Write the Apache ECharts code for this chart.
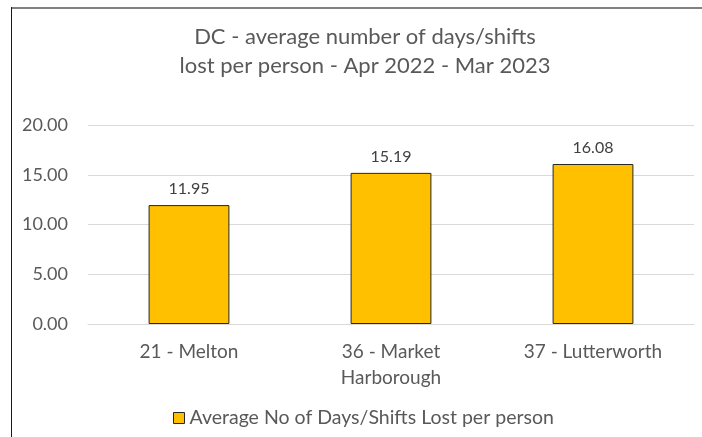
<!DOCTYPE html>
<html>
<head>
<meta charset="utf-8">
<script src="https://cdn.jsdelivr.net/npm/echarts@6/dist/echarts.min.js"></script>
<style>
  body { margin: 0; background: #fff; }
  #wrap { position: relative; width: 702px; height: 437px; overflow: hidden; }
  #main { position: absolute; left: 0; top: 0; width: 702px; height: 437px; }
  .topline { position: absolute; left: 11px; top: 7px; width: 691px; height: 2px; background: #808080; }
  .leftline { position: absolute; left: 11px; top: 7px; width: 1px; height: 430px; background: #1a1a1a; }
</style>
</head>
<body>
<div id="wrap">
  <div id="main"></div>
  <div class="topline"></div>
  <div class="leftline"></div>
</div>
<script>
var categories = ['21 - Melton', '36 - Market\nHarborough', '37 - Lutterworth'];
var seriesName = 'Average No of Days/Shifts Lost per person';
var values = [11.95, 15.19, 16.08];
var titleText = 'DC - average number of days/shifts\nlost per person - Apr 2022 - Mar 2023';

var myChart = echarts.init(document.getElementById('main'));
var font = 'Lato, "Open Sans", sans-serif';

var option = {
    animation: false,
    textStyle: { fontFamily: font },
    title: {
        text: titleText,
        left: 360,
        top: 17,
        textAlign: 'center',
        textStyle: {
            color: '#595959',
            fontSize: 22,
            fontWeight: 'normal',
            lineHeight: 29,
            fontFamily: font
        }
    },
    legend: {
        data: [seriesName],
        left: 168,
        top: 403,
        itemWidth: 11,
        itemHeight: 11,
        itemGap: 8,
        icon: 'rect',
        textStyle: { color: '#595959', fontSize: 19.5, fontFamily: font },
        itemStyle: { borderColor: '#262626', borderWidth: 1 }
    },
    grid: {
        left: 88,
        right: 8,
        top: 125,
        bottom: 113,
        containLabel: false
    },
    xAxis: {
        type: 'category',
        data: categories,
        axisTick: { show: false },
        axisLine: { lineStyle: { color: '#d9d9d9', width: 1 } },
        axisLabel: {
            color: '#595959',
            fontSize: 19,
            lineHeight: 26,
            margin: 15,
            interval: 0,
            fontFamily: font
        }
    },
    yAxis: {
        type: 'value',
        min: 0,
        max: 20,
        interval: 5,
        axisLine: { show: false },
        axisTick: { show: false },
        splitLine: { lineStyle: { color: '#d9d9d9', width: 1 } },
        axisLabel: {
            color: '#595959',
            fontSize: 18,
            margin: 20,
            fontFamily: font,
            formatter: function (v) { return v.toFixed(2); }
        }
    },
    series: [
        {
            name: seriesName,
            type: 'bar',
            data: values,
            barWidth: '40%',
            itemStyle: {
                color: '#ffc000',
                borderColor: '#262626',
                borderWidth: 1
            },
            label: {
                show: true,
                position: 'top',
                distance: 8,
                color: '#404040',
                fontSize: 16,
                fontFamily: font,
                formatter: function (p) { return p.value.toFixed(2); }
            }
        }
    ]
};
myChart.setOption(option);
</script>
</body>
</html>
